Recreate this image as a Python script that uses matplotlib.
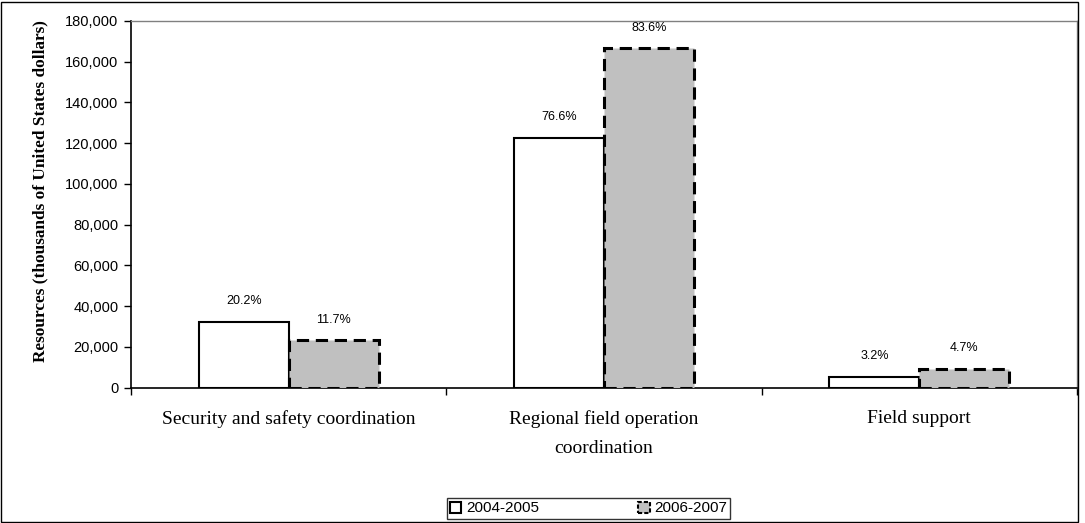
import matplotlib
matplotlib.use("Agg")
import matplotlib.pyplot as plt
from matplotlib.patches import Rectangle, Patch
from matplotlib.ticker import FuncFormatter, FixedLocator

categories = ["Security and safety coordination", "Regional field operation\ncoordination", "Field support"]
series_names = ["2004-2005", "2006-2007"]
values_2004 = [32400, 122700, 5100]
values_2006 = [23300, 166700, 9400]
pct_2004 = ["20.2%", "76.6%", "3.2%"]
pct_2006 = ["11.7%", "83.6%", "4.7%"]
yticks = [0, 20000, 40000, 60000, 80000, 100000, 120000, 140000, 160000, 180000]

W, H = 1085, 523
fig = plt.figure(figsize=(W / 100, H / 100), dpi=100)
ax = fig.add_axes([131 / W, (H - 387.7) / H, 946 / W, 366.7 / H])

x = list(range(len(categories)))
bw = 0.285
b1 = ax.bar([i - bw / 2 for i in x], values_2004, width=bw, color="white",
            edgecolor="black", linewidth=1.5, zorder=3)
b2 = ax.bar([i + bw / 2 for i in x], values_2006, width=bw, color="#C0C0C0",
            edgecolor="black", linewidth=2.2, linestyle=(0, (4, 2.2)), zorder=3)

for rect, lab in zip(b1, pct_2004):
    ax.annotate(lab, (rect.get_x() + rect.get_width() / 2, rect.get_height()),
                xytext=(0, 15), textcoords="offset points", ha="center", va="center",
                fontsize=9, family="Liberation Sans")
for rect, lab in zip(b2, pct_2006):
    ax.annotate(lab, (rect.get_x() + rect.get_width() / 2, rect.get_height()),
                xytext=(0, 14.5), textcoords="offset points", ha="center", va="center",
                fontsize=9, family="Liberation Sans")

ax.set_xlim(-0.5, 2.5)
ax.set_ylim(0, 180000)
ax.yaxis.set_major_locator(FixedLocator(yticks))
ax.yaxis.set_major_formatter(FuncFormatter(lambda v, p: f"{int(v):,}"))
ax.tick_params(axis="y", direction="out", length=5, width=1, labelsize=10.5, pad=4)
for t in ax.get_yticklabels():
    t.set_family("Liberation Sans")

ax.set_xticks([-0.5, 0.5, 1.5, 2.5])
ax.set_xticklabels([])
ax.set_xticks(x, minor=True)
ax.set_xticklabels(categories, minor=True, family="Liberation Serif", fontsize=14,
                   linespacing=1.95, va="top")
ax.tick_params(axis="x", which="major", direction="out", length=5, width=1)
ax.tick_params(axis="x", which="minor", length=0, pad=16)

ax.set_ylabel("Resources (thousands of United States dollars)", family="Liberation Serif",
              fontweight="bold", fontsize=12.4)
ax.yaxis.set_label_coords(-83 / 946, 0.535)

for s in ["left", "bottom"]:
    ax.spines[s].set_color("black")
    ax.spines[s].set_linewidth(1.2)
for s in ["top", "right"]:
    ax.spines[s].set_color("#808080")
    ax.spines[s].set_linewidth(1)

fig.add_artist(Rectangle((0.5 / W, 1.5 / H), 1077 / W, 520 / H, transform=fig.transFigure,
                         fill=False, edgecolor="black", linewidth=1))

handles = [Patch(facecolor="white", edgecolor="black", linewidth=1.5),
           Patch(facecolor="#C0C0C0", edgecolor="black", linewidth=1.5, linestyle=(0, (2, 1)))]
leg = fig.legend(handles, series_names, loc="center", bbox_to_anchor=(588.5 / W, (H - 508.5) / H),
                 ncol=2, frameon=True, fancybox=False, edgecolor="black",
                 prop={"family": "Liberation Sans", "size": 11},
                 handlelength=0.75, handleheight=0.75, handletextpad=0.3, columnspacing=6.5,
                 borderpad=0.2, borderaxespad=0)
leg.get_frame().set_linewidth(1)

fig.savefig("out.png", dpi=100)
